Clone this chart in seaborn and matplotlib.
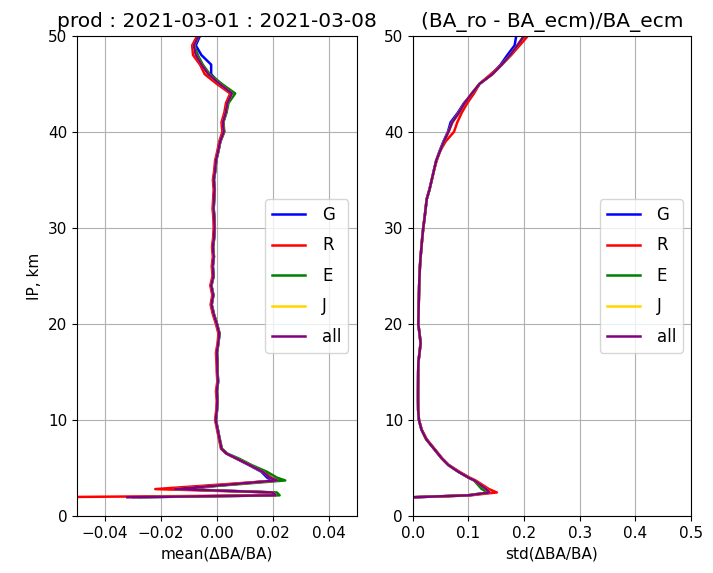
#!/usr/bin/env python3

import numpy as np
import matplotlib
matplotlib.use('Agg')
import matplotlib.pyplot as plt
import pandas as pd
import seaborn as sns

# altitude grid, km
alt = [1.95, 2.15, 2.45, 2.8, 3.7, 4.0, 4.6, 5.3, 6.0, 6.5, 7.0,
       8, 9, 10, 11, 12, 13, 14, 15, 16, 17,
       18, 19, 20, 21, 22, 23, 24, 25, 26, 27,
       28, 29, 30, 31, 32, 33, 34, 35, 36, 37,
       38, 39, 40, 41, 42, 43, 44, 45, 46, 47,
       48, 49, 50]

# mean(dBA/BA) per satellite system
mean_G = [-0.030, 0.0205, 0.0195, -0.013, 0.0205, 0.018, 0.0160, 0.0115, 0.0068, 0.0034, 0.0017,
          0.0010, 0.0004, -0.0003, 0.0001, 0.0003, 0.0001, 0.0005, 0.0003, 0.0003, 0.0001,
          0.0006, 0.0010, 0.0001, -0.0010, -0.0018, -0.0012, -0.0019, -0.0011, -0.0014, -0.0010,
          -0.0013, -0.0009, -0.0007, -0.0008, -0.0011, -0.0009, -0.0007, -0.0010, -0.0005, -0.0002,
          0.0006, 0.0013, 0.0026, 0.0023, 0.0033, 0.0039, 0.0052, 0.0012, -0.0020, -0.0020,
          -0.0055, -0.0075, -0.0060]
mean_R = [-0.065, 0.0210, 0.0205, -0.022, 0.0220, 0.0195, 0.0170, 0.0120, 0.0070, 0.0035, 0.0015,
          0.0008, 0.0001, -0.0006, -0.0002, 0.0000, -0.0003, 0.0002, 0.0000, -0.0001, -0.0003,
          0.0003, 0.0006, -0.0003, -0.0014, -0.0022, -0.0016, -0.0023, -0.0015, -0.0018, -0.0014,
          -0.0017, -0.0013, -0.0011, -0.0012, -0.0015, -0.0013, -0.0011, -0.0014, -0.0009, -0.0006,
          0.0002, 0.0009, 0.0020, 0.0017, 0.0027, 0.0033, 0.0048, 0.0000, -0.0043, -0.0060,
          -0.0085, -0.0088, -0.0070]
mean_E = [-0.028, 0.0225, 0.0215, -0.014, 0.0245, 0.0215, 0.0180, 0.0125, 0.0078, 0.0038, 0.0019,
          0.0011, 0.0004, -0.0003, 0.0001, 0.0003, 0.0001, 0.0005, 0.0003, 0.0003, 0.0001,
          0.0006, 0.0010, 0.0001, -0.0010, -0.0018, -0.0012, -0.0019, -0.0011, -0.0014, -0.0010,
          -0.0013, -0.0009, -0.0007, -0.0008, -0.0011, -0.0009, -0.0007, -0.0010, -0.0005, -0.0002,
          0.0006, 0.0013, 0.0027, 0.0024, 0.0035, 0.0042, 0.0066, 0.0018, -0.0025, -0.0050,
          -0.0068, -0.0080, -0.0065]
mean_J = [-0.032, 0.0210, 0.0200, -0.015, 0.0215, 0.0190, 0.0165, 0.0118, 0.0070, 0.0035, 0.0017,
          0.0010, 0.0003, -0.0004, 0.0000, 0.0002, 0.0000, 0.0004, 0.0002, 0.0002, 0.0000,
          0.0005, 0.0009, 0.0000, -0.0011, -0.0019, -0.0013, -0.0020, -0.0012, -0.0015, -0.0011,
          -0.0014, -0.0010, -0.0008, -0.0009, -0.0012, -0.0010, -0.0008, -0.0011, -0.0006, -0.0003,
          0.0005, 0.0012, 0.0025, 0.0022, 0.0032, 0.0038, 0.0054, 0.0010, -0.0030, -0.0055,
          -0.0075, -0.0082, -0.0065]
mean_all = [-0.032, 0.0210, 0.0200, -0.015, 0.0215, 0.0190, 0.0165, 0.0118, 0.0070, 0.0035, 0.0017,
            0.0010, 0.0003, -0.0004, 0.0000, 0.0002, 0.0000, 0.0004, 0.0002, 0.0002, 0.0000,
            0.0005, 0.0009, 0.0000, -0.0011, -0.0019, -0.0013, -0.0020, -0.0012, -0.0015, -0.0011,
            -0.0014, -0.0010, -0.0008, -0.0009, -0.0012, -0.0010, -0.0008, -0.0011, -0.0006, -0.0003,
            0.0005, 0.0012, 0.0025, 0.0022, 0.0032, 0.0038, 0.0054, 0.0010, -0.0030, -0.0055,
            -0.0075, -0.0082, -0.0065]

# std(dBA/BA) per satellite system
std_G = [0.0, 0.100, 0.137, 0.131, 0.111, 0.100, 0.082, 0.064, 0.052, 0.045, 0.038,
         0.024, 0.0155, 0.011, 0.0096, 0.0094, 0.0094, 0.0095, 0.0096, 0.010, 0.012,
         0.014, 0.012, 0.0098, 0.0102, 0.0106, 0.011, 0.0114, 0.012, 0.0128, 0.014,
         0.0155, 0.017, 0.0188, 0.021, 0.023, 0.025, 0.030, 0.034, 0.038, 0.042,
         0.048, 0.055, 0.063, 0.068, 0.081, 0.092, 0.108, 0.120, 0.142, 0.158,
         0.170, 0.183, 0.186]
std_R = [0.0, 0.104, 0.151, 0.137, 0.113, 0.102, 0.084, 0.065, 0.053, 0.046, 0.039,
         0.025, 0.016, 0.011, 0.0096, 0.0094, 0.0094, 0.0095, 0.0096, 0.010, 0.012,
         0.014, 0.012, 0.0098, 0.0102, 0.0106, 0.011, 0.0114, 0.012, 0.0128, 0.014,
         0.0155, 0.017, 0.0188, 0.021, 0.023, 0.025, 0.030, 0.034, 0.038, 0.043,
         0.049, 0.059, 0.074, 0.080, 0.088, 0.098, 0.110, 0.120, 0.140, 0.160,
         0.177, 0.192, 0.207]
std_E = [0.0, 0.098, 0.136, 0.124, 0.110, 0.100, 0.082, 0.064, 0.052, 0.045, 0.038,
         0.024, 0.0155, 0.011, 0.0096, 0.0094, 0.0094, 0.0095, 0.0096, 0.010, 0.012,
         0.014, 0.012, 0.0098, 0.0102, 0.0106, 0.011, 0.0114, 0.012, 0.0128, 0.014,
         0.0155, 0.017, 0.0188, 0.021, 0.023, 0.025, 0.030, 0.034, 0.038, 0.042,
         0.049, 0.056, 0.064, 0.071, 0.083, 0.093, 0.106, 0.120, 0.143, 0.160,
         0.175, 0.188, 0.200]
std_J = [0.0, 0.100, 0.138, 0.132, 0.111, 0.100, 0.082, 0.064, 0.052, 0.045, 0.038,
         0.024, 0.0155, 0.011, 0.0096, 0.0094, 0.0094, 0.0095, 0.0096, 0.010, 0.012,
         0.014, 0.012, 0.0098, 0.0102, 0.0106, 0.011, 0.0114, 0.012, 0.0128, 0.014,
         0.0155, 0.017, 0.0188, 0.021, 0.023, 0.025, 0.030, 0.034, 0.038, 0.042,
         0.049, 0.056, 0.064, 0.071, 0.083, 0.093, 0.106, 0.120, 0.143, 0.160,
         0.175, 0.188, 0.200]
std_all = [0.0, 0.100, 0.138, 0.132, 0.111, 0.100, 0.082, 0.064, 0.052, 0.045, 0.038,
           0.024, 0.0155, 0.011, 0.0096, 0.0094, 0.0094, 0.0095, 0.0096, 0.010, 0.012,
           0.014, 0.012, 0.0098, 0.0102, 0.0106, 0.011, 0.0114, 0.012, 0.0128, 0.014,
           0.0155, 0.017, 0.0188, 0.021, 0.023, 0.025, 0.030, 0.034, 0.038, 0.042,
           0.049, 0.056, 0.064, 0.071, 0.083, 0.093, 0.106, 0.120, 0.143, 0.160,
           0.175, 0.188, 0.200]

labels = ['G', 'R', 'E', 'J', 'all']
colors = ['blue', 'red', 'green', 'gold', 'purple']
mean_list = [mean_G, mean_R, mean_E, mean_J, mean_all]
std_list = [std_G, std_R, std_E, std_J, std_all]

rows = []
for lab, m, s in zip(labels, mean_list, std_list):
    for a, mv, sv in zip(alt, m, s):
        rows.append({'sys': lab, 'alt': a, 'mean': mv, 'std': sv})
df = pd.DataFrame(rows)

fig = plt.figure(figsize=(7.13, 5.73), dpi=100)
ax1 = fig.add_axes([0.108, 0.0995, 0.392, 0.838])
ax2 = fig.add_axes([0.579, 0.0995, 0.390, 0.838])

for ax, col in [(ax1, 'mean'), (ax2, 'std')]:
    sns.lineplot(data=df, x=col, y='alt', hue='sys', hue_order=labels,
                 palette=colors, orient='y', sort=False, estimator=None,
                 linewidth=1.8, ax=ax)
    ax.grid(True)
    ax.set_ylim(0, 50)
    ax.tick_params(labelsize=11)
    ax.legend(loc='center right', fontsize=12, labelspacing=0.75,
              handletextpad=1.0)

ax1.set_xlim(-0.05, 0.05)
ax1.set_xticks([-0.04, -0.02, 0.0, 0.02, 0.04])
ax1.set_xlabel('mean(ΔBA/BA)', fontsize=11)
ax1.set_ylabel('IP, km', fontsize=11)
ax1.set_title('prod : 2021-03-01 : 2021-03-08', fontsize=14.5)

ax2.set_xlim(0, 0.5)
ax2.set_xlabel('std(ΔBA/BA)', fontsize=11)
ax2.set_ylabel('')
ax2.set_title('(BA_ro - BA_ecm)/BA_ecm', fontsize=14.5)

plt.savefig('out.png', dpi=100)
